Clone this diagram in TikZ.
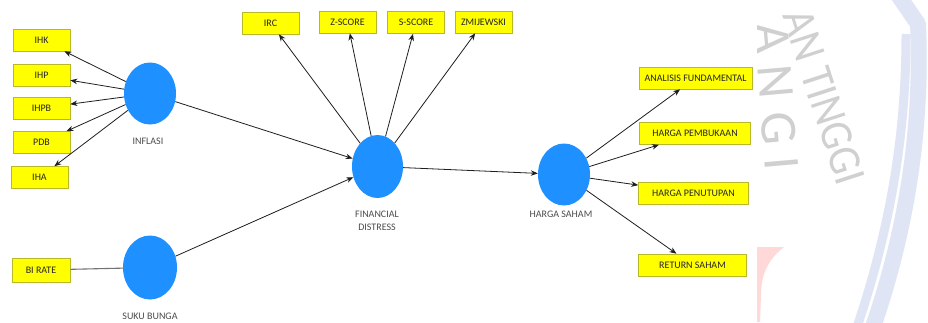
\documentclass[tikz,border=0pt]{standalone}
\usepackage{fontspec}
\setmainfont{Carlito}
\usetikzlibrary{shapes.geometric,arrows.meta}
\definecolor{boxyellow}{RGB}{255,255,0}
\definecolor{boxedge}{RGB}{185,185,40}
\definecolor{lvblue}{RGB}{30,144,255}
\definecolor{arrowgray}{RGB}{30,30,30}
\definecolor{wmgray}{RGB}{208,208,208}
\definecolor{wmblue}{RGB}{224,229,246}
\definecolor{wmpink}{RGB}{255,216,216}
\begin{document}
\begin{tikzpicture}[x=1pt,y=-1pt,
  ind/.style={rectangle, fill=boxyellow, draw=boxedge, line width=0.6pt, minimum height=22pt, inner sep=0pt, font=\fontsize{10}{12}\selectfont, text=black!85},
  lv/.style={ellipse, fill=lvblue, minimum width=52pt, minimum height=62pt, inner sep=0pt},
  lab/.style={font=\fontsize{10}{13}\selectfont, text=black!70, align=center},
  arr/.style={draw=arrowgray, line width=0.8pt, -{Stealth[length=7pt,width=5.5pt]}},
  plainline/.style={draw=black!55, line width=1.1pt},
  wmtext/.style={font=\fontsize{46}{46}\selectfont, text=wmgray, inner sep=0pt},
]
\useasboundingbox (0,0) rectangle (928,322);
\fill[white] (0,0) rectangle (928,322);
% watermark
\begin{scope}
  \clip (757,0) rectangle (928,322);
  \draw[wmblue, line width=16pt, line join=round] (896,-8) -- (918,24) .. controls (922,120) and (910,220) .. (872,330);
  \draw[wmblue, line width=9pt] (906,34) .. controls (906,120) and (895,215) .. (856,330);
  \fill[wmpink] (757,247) -- (784,247) .. controls (770,258) and (761,272) .. (761,295) -- (760,322) -- (757,322) -- cycle;
  \node[wmtext, rotate=-72, xscale=0.9] (wma) at (824,97) {AN TINGGI};
  \node[wmtext, font=\fontsize{52}{52}\selectfont, rotate=-85] (wmb1) at (772,38) {A};
  \node[wmtext, font=\fontsize{52}{52}\selectfont, rotate=-85] (wmb2) at (776,82) {N};
  \node[wmtext, font=\fontsize{52}{52}\selectfont, rotate=-85] (wmb3) at (779,128) {G};
  \node[wmtext, font=\fontsize{52}{52}\selectfont, rotate=-85] (wmb4) at (782,164) {I};
\end{scope}
% indicators
\node[ind, minimum width=57pt] (ihk) at (41.5,40) {IHK};
\node[ind, minimum width=57pt] (ihp) at (41.5,75.5) {IHP};
\node[ind, minimum width=57pt] (ihpb) at (41.5,108) {IHPB};
\node[ind, minimum width=57pt] (pdb) at (41.5,142.5) {PDB};
\node[ind, minimum width=57pt] (iha) at (39.5,177.5) {IHA};
\node[ind, minimum width=58pt, minimum height=24pt] (bir) at (41,270) {BI RATE};
\node[ind, minimum width=57pt] (irc) at (270.5,23) {IRC};
\node[ind, minimum width=57pt] (zs) at (347.5,22) {Z-SCORE};
\node[ind, minimum width=57pt] (ss) at (416,22.5) {S-SCORE};
\node[ind, minimum width=57pt] (zm) at (483.5,22) {ZMIJEWSKI};
\node[ind, minimum width=113pt] (af) at (695.5,78) {ANALISIS FUNDAMENTAL};
\node[ind, minimum width=111pt] (hp) at (695,133.5) {HARGA PEMBUKAAN};
\node[ind, minimum width=110pt] (hpt) at (693.5,193) {HARGA PENUTUPAN};
\node[ind, minimum width=108pt] (rs) at (692.5,265) {RETURN SAHAM};
% latent variables
\node[lv] (inf) at (150,93.5) {};
\node[lv, minimum width=54pt, minimum height=64pt] (sb) at (150,267.5) {};
\node[lv, minimum width=51pt, minimum height=63pt] (fd) at (377.5,166.5) {};
\node[lv] (hs) at (564,174.5) {};
% labels
\node[lab] (linf) at (148,141) {INFLASI};
\node[lab] (lsb) at (150,316) {SUKU BUNGA};
\node[lab] (lfd) at (377,221) {FINANCIAL\\DISTRESS};
\node[lab] (lhs) at (561,214) {HARGA SAHAM};
% connectors
\draw[arr] (inf) -- (ihk);
\draw[arr] (inf) -- (ihp);
\draw[arr] (inf) -- (ihpb);
\draw[arr] (inf) -- (pdb);
\draw[arr] (inf) -- (iha);
\draw[plainline] (bir) -- (sb);
\draw[arr] (inf) -- (fd);
\draw[arr] (sb) -- (fd);
\draw[arr] (fd) -- (irc);
\draw[arr] (fd) -- (zs);
\draw[arr] (fd) -- (ss);
\draw[arr] (fd) -- (zm);
\draw[arr] (fd) -- (hs);
\draw[arr] (hs) -- (af);
\draw[arr] (hs) -- (hp);
\draw[arr] (hs) -- (hpt);
\draw[arr] (hs) -- (rs);
\end{tikzpicture}
\end{document}
